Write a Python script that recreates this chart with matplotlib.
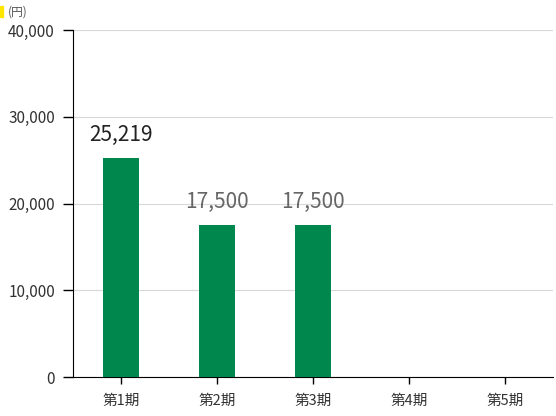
import matplotlib.pyplot as plt
from matplotlib.patches import Rectangle

plt.rcParams['font.family'] = ['Noto Sans CJK JP', 'DejaVu Sans']

# data
periods = ['第1期', '第2期', '第3期', '第4期', '第5期']
values = [25219, 17500, 17500, None, None]
label_colors = ['#222222', '#666666', '#666666']
y_ticks = [0, 10000, 20000, 30000, 40000]

BAR_COLOR = '#00874D'

fig = plt.figure(figsize=(5.56, 4.16), dpi=100)
ax = fig.add_axes([73 / 556, 1 - 377 / 416, 480 / 556, 347 / 416])

x = list(range(len(periods)))
heights = [v if v is not None else 0 for v in values]
bars = ax.bar(x, heights, width=0.385, color=BAR_COLOR, zorder=3)

# data labels
for i, v in enumerate(values):
    if v is None:
        continue
    ax.annotate(f'{v:,}', (x[i], v), xytext=(0, 9), textcoords='offset points',
                ha='center', va='bottom', fontsize=15, color=label_colors[i])

ax.set_xlim(-0.5, len(periods) - 0.5)
ax.set_ylim(0, 40000)
ax.set_xticks(x)
ax.set_xticklabels(periods, fontsize=10.5, color='#333333')
ax.set_yticks(y_ticks)
ax.set_yticklabels([f'{t:,}' for t in y_ticks], fontsize=11, color='#333333')

ax.grid(axis='y', color='#d8d8d8', linewidth=0.8, zorder=0)
for side in ['top', 'right']:
    ax.spines[side].set_visible(False)
ax.spines['left'].set_color('black')
ax.spines['bottom'].set_color('black')
ax.tick_params(axis='y', length=7, width=1, pad=6)
ax.tick_params(axis='x', length=5, width=1, pad=7)

# unit label and small marker
fig.text(8 / 556, 1 - 12 / 416, '(円)', fontsize=8.5, color='#555555', va='center')
fig.patches.append(Rectangle((0, 1 - 17 / 416), 3 / 556, 11 / 416,
                             transform=fig.transFigure, color='#FFE600', figure=fig))

plt.savefig('out.png', dpi=100)
